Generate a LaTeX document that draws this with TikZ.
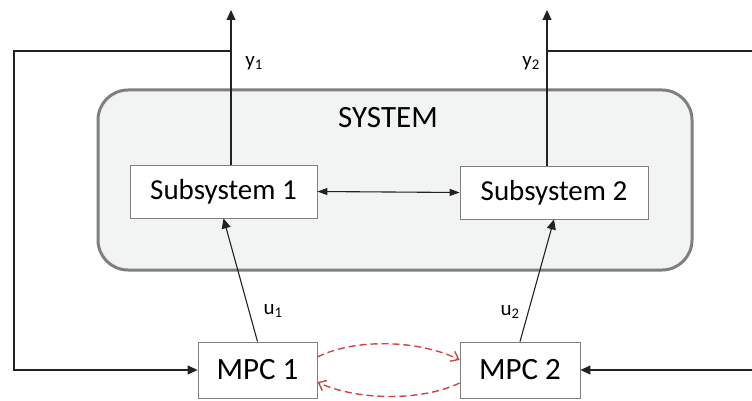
\documentclass[tikz,border=0pt]{standalone}
\usepackage{fontspec}
\setmainfont{Carlito}
\usetikzlibrary{arrows.meta}
\definecolor{sysfill}{HTML}{F2F3F3}
\definecolor{sysedge}{HTML}{7F7F7F}
\definecolor{msgred}{HTML}{D0453F}
\definecolor{wire}{HTML}{222222}

\begin{document}
\begin{tikzpicture}[x = 1pt, y = -1pt,
	subbox/.style = {draw = sysedge, fill = white, line width = 0.8pt, inner sep = 0pt, minimum height = 53pt, font = \fontsize{29}{33}\selectfont},
	mpcbox/.style = {draw = sysedge, fill = white, line width = 0.8pt, inner sep = 0pt, minimum height = 56pt, font = \fontsize{31}{36}\selectfont},
	sig/.style = {draw = wire, line width = 1.1pt, -{Triangle[length = 10pt, width = 9pt]}},
	msg/.style = {draw = msgred, line width = 1.4pt, dash pattern = on 7pt off 4pt, -{Straight Barb[length = 7pt, width = 11pt]}},
	lab/.style = {font = \fontsize{21}{24}\selectfont, inner sep = 0pt}]
	\useasboundingbox (0, 0) rectangle (752, 401);

	% system frame
	\node[draw = sysedge, fill = sysfill, line width = 3pt, rounded corners = 30pt, minimum width = 594pt, minimum height = 180pt] (sys) at (395, 180) {};
	\node[font = \fontsize{31}{36}\selectfont] (systitle) at (388, 118) {SYSTEM};

	% blocks
	\node[subbox, minimum width = 187pt] (sub1) at (223.5, 191.5) {Subsystem 1};
	\node[subbox, minimum width = 188pt] (sub2) at (554, 192.5) {Subsystem 2};
	\node[mpcbox, minimum width = 119pt] (mpc1) at (257.5, 370) {MPC 1};
	\node[mpcbox, minimum width = 120pt] (mpc2) at (520, 370) {MPC 2};

	% outputs and feedback
	\coordinate (y1top) at (231, 10);
	\coordinate (y2top) at (547, 10);
	\coordinate (fb1) at (231, 51);
	\coordinate (fb2) at (547, 51);
	\coordinate (edge2) at (753, 51);
	\coordinate (in2) at (753, 370);
	\draw[sig] (sub1.north -| y1top) -- (y1top);
	\draw[sig] (sub2.north -| y2top) -- (y2top);
	\draw[sig] (fb1) -- (14, 51) -- (14, 370) -- (mpc1.west);
	\draw[draw = wire, line width = 1.1pt] (fb2) -- (edge2);
	\draw[sig] (in2) -- (mpc2.east);
	\draw[draw = wire, line width = 1.1pt, {Triangle[length = 10pt, width = 7pt]}-{Triangle[length = 10pt, width = 7pt]}] (sub1.east) -- (sub2.east -| sub2.west);

	% inputs
	\draw[sig] (mpc1.north) -- (sub1.south);
	\draw[sig] (mpc2.north) -- (sub2.south);

	\node[lab] (y1lab) at (254, 63) {y\textsubscript{1}};
	\node[lab] (y2lab) at (531, 63) {y\textsubscript{2}};
	\node[lab] (u1lab) at (273, 311) {u\textsubscript{1}};
	\node[lab] (u2lab) at (510, 312) {u\textsubscript{2}};

	% communication
	\draw[msg] ([yshift = 13pt]mpc1.east) .. controls (355, 338) and (420, 340) .. ([yshift = 10pt]mpc2.west);
	\draw[msg] ([yshift = -13pt]mpc2.west) .. controls (420, 402) and (355, 400) .. ([yshift = -12pt]mpc1.east);
\end{tikzpicture}
\end{document}
